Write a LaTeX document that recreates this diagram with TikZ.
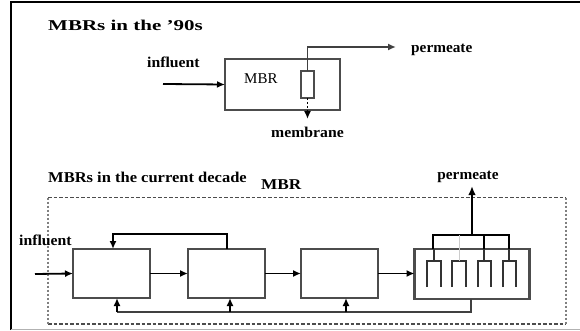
\documentclass[tikz,border=0pt]{standalone}
\usepackage{fontspec}
\setmainfont{Liberation Serif}
\usetikzlibrary{arrows.meta,calc}
\begin{document}
\begin{tikzpicture}[x=1pt,y=-1pt,
  box/.style={draw=black!70,line width=2.2pt,inner sep=0pt,outer sep=0pt},
  arr/.style={-{Latex[length=8pt,width=7pt]},line width=1.8pt},
  lbl/.style={font=\fontsize{15}{15}\selectfont\bfseries,inner sep=0pt},
  ln/.style={line width=1.8pt}]
\useasboundingbox (0,0) rectangle (580,331);
% outer frame
\draw[line width=2.6pt] (11,330) -- (11,2) -- (580,2);
\draw[black!30,line width=1pt] (11,329.5) -- (580,329.5);
% ---- top section
\node[lbl,anchor=west] (t1) at (48,25) {\scalebox{1.4}[1]{MBRs in the '90s}};
\node[box,minimum width=115pt,minimum height=51pt] (mbr) at (282.5,84.5) {};
\node[inner sep=0pt,anchor=west,font=\fontsize{15}{15}\selectfont] (mbrt) at (244,79) {MBR};
\node[box,line width=1.6pt,minimum width=13pt,minimum height=27pt] (memb) at (307.5,84.5) {};
\node[lbl,anchor=west] (infl1) at (147,62) {\scalebox{1.05}[1]{influent}};
\coordinate (in1) at (163,84);
\draw[arr] (in1) -- (mbr.west);
\node[lbl,anchor=west] (perm1) at (411,50) {\scalebox{1.02}[1]{permeate}};
\coordinate (p1) at (396,47);
\draw[arr,black!75] (memb.north) |- (p1);
\node[lbl] (membr) at (307.5,132) {\scalebox{1.05}[1]{membrane}};
\coordinate (m1) at (307.5,119);
\draw[arr,dash pattern=on 2pt off 2pt] (memb.south) -- (m1);
% ---- bottom section
\node[lbl,anchor=west] (t2) at (48,177) {\scalebox{1.1}[1]{MBRs in the current decade}};
\node[lbl,anchor=west] (vbr) at (261,185) {\scalebox{1.15}[1]{MBR}};
\draw[black!70,line width=1.8pt,dash pattern=on 3.5pt off 2pt] (48,197.5) -- (566,197.5);
\draw[black!70,line width=1.8pt,dash pattern=on 3.5pt off 2pt] (48,324) -- (566,324);
\draw[black!50,line width=2.2pt,dash pattern=on 2pt off 2pt] (48,197.5) -- (48,324);
\draw[black!50,line width=2.2pt,dash pattern=on 2pt off 2pt] (566,197.5) -- (566,324);
\node[lbl,anchor=west] (infl2) at (19,240) {\scalebox{1.05}[1]{influent}};
\node[box,minimum width=77pt,minimum height=49pt] (b1) at (111.5,273.5) {};
\node[box,minimum width=77pt,minimum height=49pt] (b2) at (226.5,273.5) {};
\node[box,minimum width=77pt,minimum height=49pt] (b3) at (339.5,273.5) {};
\node[box,minimum width=115pt,minimum height=50pt] (b4) at (472,274) {};
\coordinate (in2) at (35,274);
\draw[arr] (in2) -- (b1.west);
\draw[arr] (b1.east) -- (b2.west);
\draw[arr] (b2.east) -- (b3.west);
\draw[arr] (b3.east) -- (b4.west |- b3.east);
% top recycle
\coordinate (r2) at (227,249);
\coordinate (r1) at (113,249);
\draw[arr] (r2) -- (227,234) -| (r1);
% bottom recycle
\coordinate (rb) at (471,312);
\coordinate (u1) at (117,298);
\coordinate (u2) at (230,298);
\coordinate (u3) at (346,298);
\draw[ln,black!75] (471,299) -- (rb) -- (117,312);
\draw[arr] (117,312) -- (u1);
\draw[arr] (230,312) -- (u2);
\draw[arr] (346,312) -- (u3);
% membrane elements in b4
\foreach \a/\b in {427/441,452/466,478/491,503/516}{
  \draw[line width=1.6pt,black!80] (\a,287) -- (\a,261) -- (\b,261) -- (\b,287);
}
\draw[line width=2.6pt] (433,249) -- (433,235) -- (509,235) -- (509,249);
\draw[line width=2.6pt] (484,235) -- (484,249);
\draw[line width=0.8pt,black!20] (459,235) -- (459,261);
\draw[line width=1.4pt,black!80] (434,249) -- (434,261);
\draw[line width=1.4pt,black!80] (484,249) -- (484,261);
\draw[line width=1.4pt,black!80] (509,249) -- (509,261);
\coordinate (pm) at (472,235);
\coordinate (pt) at (472,186);
\node[lbl] (perm2) at (468,177) {\scalebox{1.02}[1]{permeate}};
\draw[-{Latex[length=9pt,width=7.5pt]},line width=2.6pt] (pm) -- (pt);
\end{tikzpicture}
\end{document}
